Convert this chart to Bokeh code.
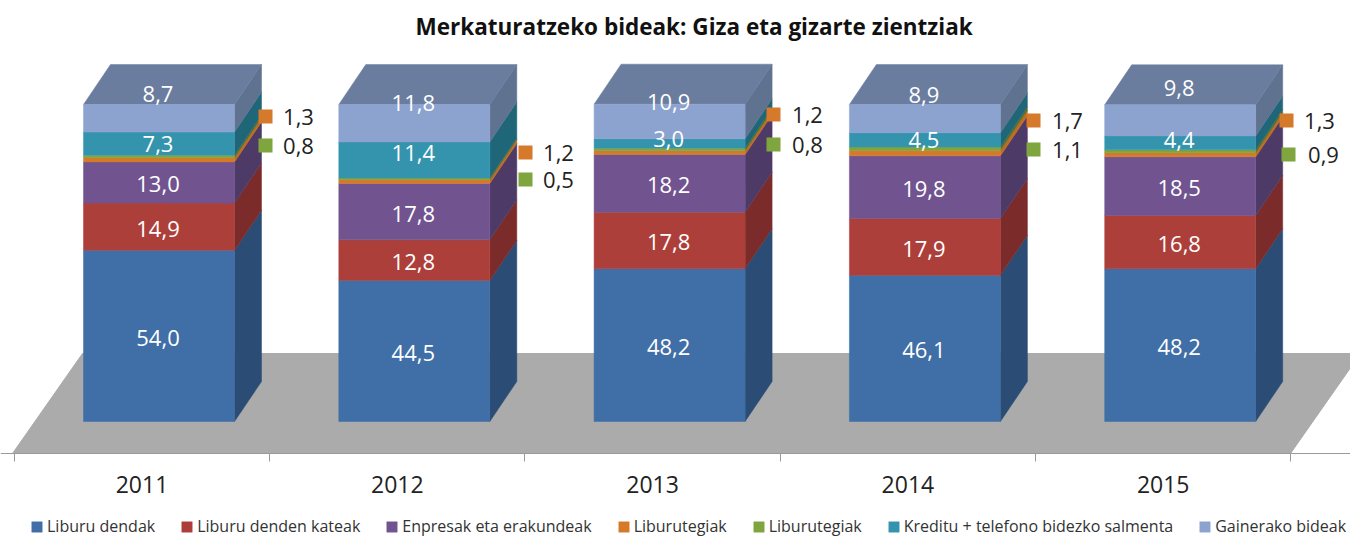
from bokeh.plotting import figure
from bokeh.models import (ColumnDataSource, Range1d, LinearAxis, FixedTicker, Legend, LegendItem)
from bokeh.core.properties import value
from bokeh.embed import file_html
from bokeh.resources import INLINE

years = ["2011", "2012", "2013", "2014", "2015"]
liburu_dendak = [54.0, 44.5, 48.2, 46.1, 48.2]
liburu_denden_kateak = [14.9, 12.8, 17.8, 17.9, 16.8]
enpresak = [13.0, 17.8, 18.2, 19.8, 18.5]
liburutegiak_a = [1.3, 1.2, 1.2, 1.7, 1.3]
liburutegiak_b = [0.8, 0.5, 0.8, 1.1, 0.9]
kreditu = [7.3, 11.4, 3.0, 4.5, 4.4]
gainerako = [8.7, 11.8, 10.9, 8.9, 9.8]

names = ["Liburu dendak", "Liburu denden kateak", "Enpresak eta erakundeak", "Liburutegiak",
         "Liburutegiak", "Kreditu + telefono bidezko salmenta", "Gainerako bideak"]
series = [liburu_dendak, liburu_denden_kateak, enpresak, liburutegiak_a, liburutegiak_b, kreditu, gainerako]
front = ["#3F6FA6", "#AD3F3B", "#71548F", "#D5792B", "#7FA53F", "#3494AE", "#8CA3CF"]
side = ["#2A4C75", "#7B2B2A", "#4E3A66", "#C06A22", "#567029", "#1F6678", "#5F7290"]

FS = "22px"
FONT = value("Open Sans")

# page pixel <-> data scale
PX_PER_CAT, CENTER0 = 255.3, 141.5
PX_PER_VAL, BASE = 3.17, 421.0
def xd(px): return (px - CENTER0) / PX_PER_CAT
def yd(py): return (BASE - py) / PX_PER_VAL
TOP_PAGE = 43

p = figure(frame_width=1350, frame_height=537 - TOP_PAGE, output_backend="svg", toolbar_location=None,
           x_range=Range1d(xd(0), xd(1350)), y_range=Range1d(yd(537), yd(TOP_PAGE)),
           min_border_left=0, min_border_right=0, min_border_bottom=0, min_border_top=TOP_PAGE,
           x_axis_type=None, y_axis_type=None, outline_line_color=None,
           title="Merkaturatzeko bideak: Giza eta gizarte zientziak")
p.background_fill_color = "white"
p.grid.visible = False
p.title.align = "left"
p.title.offset = 415
p.title.standoff = 3
p.title.text_font = "Open Sans"
p.title.text_font_style = "bold"
p.title.text_font_size = "22.5px"
p.title.text_color = "#111111"

# floor
fy0, fy1 = yd(453), yd(353)
p.patch([xd(12), xd(1290), xd(1360), xd(82)], [fy0, fy0, fy1, fy1], fill_color="#ABABAB", line_color="#ABABAB")

# bars
BAR_OFF, BAR_W = 17.0 / PX_PER_CAT, 151.0 / PX_PER_CAT
DX, DY = 27.0 / PX_PER_CAT, 40.0 / PX_PER_VAL
n = len(years)
bottoms = [[0.0] * n]
for s in series:
    bottoms.append([round(b + v, 3) for b, v in zip(bottoms[-1], s)])

xs_c = [i + BAR_OFF for i in range(n)]
for k in range(len(series)):
    xs, ys = [], []
    for i in range(n):
        x1 = xs_c[i] + BAR_W / 2
        b, t = bottoms[k][i], bottoms[k + 1][i]
        xs.append([x1, x1 + DX, x1 + DX, x1])
        ys.append([b, b + DY, t + DY, t])
    p.patches(xs, ys, fill_color=side[k], line_color=side[k], line_width=0.5)
# top face
p.patches([[xs_c[i] - BAR_W / 2, xs_c[i] + BAR_W / 2, xs_c[i] + BAR_W / 2 + DX, xs_c[i] - BAR_W / 2 + DX] for i in range(n)],
          [[bottoms[-1][i], bottoms[-1][i], bottoms[-1][i] + DY, bottoms[-1][i] + DY] for i in range(n)],
          fill_color="#6A7D9F", line_color="#6A7D9F", line_width=0.5)

bars = []
for k in range(len(series)):
    src = ColumnDataSource(dict(x=xs_c, bottom=bottoms[k], top=bottoms[k + 1]))
    bars.append(p.vbar(x="x", bottom="bottom", top="top", width=BAR_W, source=src,
                       fill_color=front[k], line_color=front[k], line_width=0.5))

# value labels inside the bars
fmt = lambda v: f"{v:.1f}".replace(".", ",")
# pixel nudges (up = positive) of the printed labels for the upper series
nudge = {5: [0, 7, 4, 0, 3], 6: [24, 20, 19, 24, 32]}
for k in [0, 1, 2, 5, 6]:
    shift = nudge.get(k, [-2] * n)
    src = ColumnDataSource(dict(
        x=[xs_c[i] - 1.0 / PX_PER_CAT for i in range(n)],
        y=[(bottoms[k][i] + bottoms[k + 1][i]) / 2 + shift[i] / PX_PER_VAL for i in range(n)],
        t=[fmt(v) for v in series[k]]))
    p.text(x="x", y="y", text="t", source=src, text_color="white", text_font=FONT, text_font_size=FS,
           text_align="center", text_baseline="middle")

# outside labels with keys
key_a_x, key_a_y = [265, 525, 773, 1033, 1286], [116, 152, 114, 120, 120]
key_b_x, key_b_y = [265, 525, 773, 1033, 1288], [145, 179, 144, 149, 154]
txt_a_x, txt_b_x = [298, 558, 807, 1067, 1319], [298, 558, 807, 1067, 1323]
for kx, ky, tx, vals, col in [(key_a_x, key_a_y, txt_a_x, liburutegiak_a, front[3]),
                              (key_b_x, key_b_y, txt_b_x, liburutegiak_b, front[4])]:
    p.scatter([xd(v) for v in kx], [yd(v) for v in ky], marker="square", size=14, fill_color=col, line_color=None)
    p.text([xd(v) for v in tx], [yd(v) for v in ky], text=[fmt(v) for v in vals], text_color="#222222",
           text_font=FONT, text_font_size=FS, text_align="center", text_baseline="middle")

# category axis with separators between the categories
ax = LinearAxis(fixed_location=yd(453))
ax.ticker = FixedTicker(ticks=list(range(n)), minor_ticks=[i - 0.5 for i in range(n + 1)])
ax.major_label_overrides = {i: y for i, y in enumerate(years)}
ax.major_tick_out = 0
ax.major_tick_in = 0
ax.minor_tick_out = 8
ax.minor_tick_in = 0
ax.minor_tick_line_color = "#9A9A9A"
ax.axis_line_color = "#9A9A9A"
ax.major_label_standoff = 14
ax.major_label_text_font = "Open Sans"
ax.major_label_text_font_size = "23px"
ax.major_label_text_color = "#222222"
p.add_layout(ax, "below")

legend = Legend(items=[LegendItem(label=names[k], renderers=[bars[k]]) for k in range(len(names))],
                orientation="horizontal", location=(30, 0), padding=0, margin=0, spacing=25,
                glyph_width=13, glyph_height=13, label_standoff=4, border_line_color=None,
                background_fill_alpha=0, label_text_font="Open Sans", label_text_font_size="16px",
                label_text_color="#333333", label_height=14)
p.add_layout(legend, "center")

open("out.html", "w").write(file_html(p, INLINE))
